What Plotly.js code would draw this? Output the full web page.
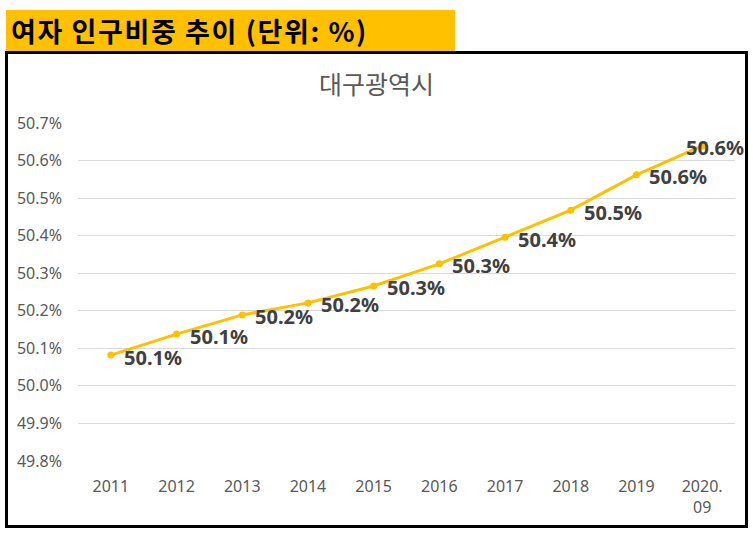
<!DOCTYPE html>
<html>
<head>
<meta charset="utf-8">
<script src="https://cdn.plot.ly/plotly-3.0.1.min.js"></script>
<style>
  body { margin: 0; background: #fff; }
  #wrap { position: relative; width: 753px; height: 550px; }
  #banner {
    position: absolute; left: 6px; top: 10px; width: 449px; height: 41px;
    background: #FFC000; color: #000; font-family: "Noto Sans CJK KR", sans-serif;
    font-weight: bold; font-size: 27px; line-height: 41px; padding-left: 5px; box-sizing: border-box;
    white-space: nowrap; letter-spacing: 1.6px;
  }
  #frame {
    position: absolute; left: 5px; top: 51px; width: 743px; height: 477px;
    border: 3px solid #000; box-sizing: border-box; pointer-events: none;
  }
  #chart { position: absolute; left: 0; top: 0; width: 753px; height: 550px; }
</style>
</head>
<body>
<div id="wrap">
  <div id="chart"></div>
  <div id="frame"></div>
  <div id="banner">여자 인구비중 추이 (단위: %)</div>
</div>
<script>
// 대구광역시 여자 인구비중 (%)
const years = ['2011', '2012', '2013', '2014', '2015', '2016', '2017', '2018', '2019', '2020.<br>09'];
const femaleShare = [50.082, 50.138, 50.189, 50.221, 50.266, 50.325, 50.396, 50.468, 50.562, 50.639];
const yTicks = [49.8, 49.9, 50.0, 50.1, 50.2, 50.3, 50.4, 50.5, 50.6, 50.7];

const GOLD = '#FFC000';

// point labels (x by category index), last one sits on its marker like the original
const labels = femaleShare.map((v, i) => ({
    x: i, y: v,
    text: v.toFixed(1) + '%',
    showarrow: false, xanchor: 'left', yanchor: 'middle',
    xshift: i === years.length - 1 ? -18 : 11, yshift: -2,
    font: { family: '"Noto Sans", "Open Sans", sans-serif', size: 20, color: '#404040', weight: 'bold' },
}));

Plotly.newPlot('chart', [{
    x: years, y: femaleShare,
    type: 'scatter', mode: 'lines+markers',
    line: { color: GOLD, width: 3 },
    marker: { color: GOLD, size: 7 },
    hoverinfo: 'skip',
}], {
    width: 753, height: 550,
    margin: { l: 78, r: 18, t: 123, b: 89 },
    paper_bgcolor: 'rgba(0,0,0,0)', plot_bgcolor: 'rgba(0,0,0,0)',
    showlegend: false,
    title: {
        text: '대구광역시', xref: 'container', x: 0.5, xanchor: 'center',
        yref: 'container', y: 1 - 85 / 550, yanchor: 'middle',
        font: { family: '"Noto Sans CJK KR", sans-serif', size: 25, color: '#595959' },
    },
    xaxis: {
        type: 'category', range: [-0.5, years.length - 0.5],
        showgrid: false, zeroline: false,
        showline: false, ticks: '', ticklabelstandoff: 14,
        tickfont: { family: '"Noto Sans", sans-serif', size: 16, color: '#595959' },
    },
    yaxis: {
        range: [49.8, 50.7], tickvals: yTicks,
        ticktext: yTicks.map(v => v.toFixed(1) + '%'),
        showgrid: true, gridcolor: '#d9d9d9', gridwidth: 1, zeroline: false,
        showline: false, ticks: '', ticklabelstandoff: 15,
        tickfont: { family: '"Noto Sans", sans-serif', size: 16, color: '#595959' },
    },
    annotations: labels,
}, { displayModeBar: false, staticPlot: true });
</script>
</body>
</html>
